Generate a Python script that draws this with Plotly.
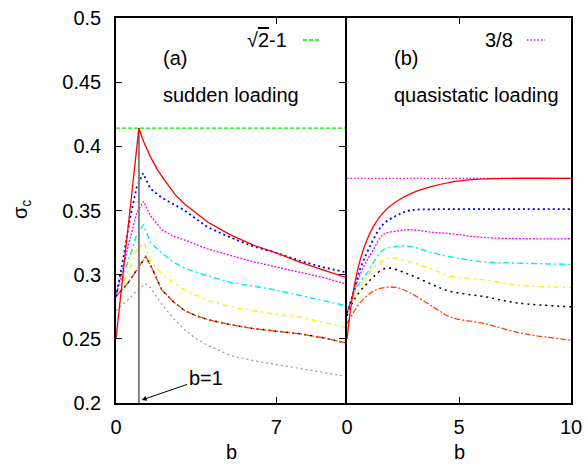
import plotly.graph_objects as go

# ---------------- data ----------------
SQRT2_M1 = 0.4142
THREE_EIGHTHS = 0.375

# (a) sudden loading
a_red_b = [0, 1, 1.2, 1.5, 1.8, 2.1, 2.6, 3, 3.5, 4, 5, 6, 7, 8, 9, 10]
a_red_s = [0.25, 0.4142, 0.404, 0.392, 0.382, 0.374, 0.362, 0.355, 0.348, 0.341, 0.331, 0.323, 0.317, 0.310, 0.304, 0.298]
a_blue_b = [0, 0.3, 0.6, 0.9, 1.18, 1.5, 2, 3, 4, 5, 6, 7, 8, 9, 10]
a_blue_s = [0.283, 0.311, 0.343, 0.368, 0.379, 0.367, 0.360, 0.350, 0.337, 0.329, 0.322, 0.317, 0.311, 0.306, 0.302]
a_mag_b = [0, 0.3, 0.6, 0.9, 1.2, 1.5, 2, 2.5, 3, 4, 5, 6, 7, 8, 9, 10]
a_mag_s = [0.283, 0.306, 0.327, 0.348, 0.357, 0.346, 0.335, 0.330, 0.327, 0.320, 0.315, 0.310, 0.306, 0.302, 0.298, 0.293]
a_cyan_b = [0, 0.3, 0.6, 0.9, 1.2, 1.5, 2, 2.5, 3, 4, 5, 6, 7, 8, 9, 10]
a_cyan_s = [0.285, 0.298, 0.314, 0.331, 0.339, 0.325, 0.317, 0.310, 0.305, 0.299, 0.294, 0.291, 0.288, 0.284, 0.280, 0.276]
a_yel_b = [0, 0.3, 0.6, 0.9, 1.25, 1.5, 2, 2.5, 3, 4, 5, 6, 7, 8, 9, 10]
a_yel_s = [0.285, 0.293, 0.306, 0.319, 0.325, 0.311, 0.301, 0.294, 0.288, 0.280, 0.275, 0.272, 0.269, 0.267, 0.263, 0.259]
a_blk_b = [0, 0.5, 1, 1.3, 1.6, 2, 2.5, 3, 3.5, 4, 5, 6, 7, 8, 9, 10]
a_blk_s = [0.283, 0.293, 0.306, 0.314, 0.304, 0.288, 0.279, 0.272, 0.268, 0.265, 0.261, 0.258, 0.256, 0.254, 0.251, 0.247]
a_org_b = [0, 0.5, 1, 1.3, 1.6, 2, 2.5, 3, 3.5, 4, 5, 6, 7, 8, 9, 10]
a_org_s = [0.283, 0.293, 0.306, 0.314, 0.304, 0.288, 0.279, 0.272, 0.268, 0.265, 0.261, 0.258, 0.256, 0.254, 0.251, 0.247]
a_gray_b = [0, 0.5, 1, 1.3, 1.5, 2, 2.5, 3, 3.5, 4, 4.5, 5, 6, 7, 8, 9, 10]
a_gray_s = [0.272, 0.280, 0.289, 0.293, 0.290, 0.277, 0.266, 0.257, 0.250, 0.245, 0.241, 0.237, 0.233, 0.230, 0.227, 0.224, 0.221]

# (b) quasistatic loading
q_red_b = [0, 0.27, 0.58, 0.89, 1.16, 1.6, 2.2, 2.95, 3.84, 4.6, 5.6, 7, 10]
q_red_s = [0.25, 0.286, 0.311, 0.327, 0.337, 0.348, 0.357, 0.364, 0.369, 0.372, 0.374, 0.375, 0.375]
q_blue_b = [0, 0.27, 0.58, 0.89, 1.16, 1.6, 2.2, 2.8, 4, 6, 8, 10]
q_blue_s = [0.27, 0.285, 0.304, 0.317, 0.327, 0.339, 0.346, 0.350, 0.351, 0.351, 0.351, 0.351]
q_mag_b = [0, 0.27, 0.58, 0.89, 1.16, 1.6, 2.2, 2.8, 3.84, 4.6, 6.1, 8, 10]
q_mag_s = [0.27, 0.285, 0.300, 0.311, 0.319, 0.331, 0.334, 0.335, 0.333, 0.332, 0.329, 0.328, 0.328]
q_cyan_b = [0, 0.27, 0.58, 0.89, 1.16, 1.6, 2.2, 2.8, 3.84, 4.6, 6.1, 7.6, 10]
q_cyan_s = [0.27, 0.284, 0.294, 0.301, 0.309, 0.319, 0.322, 0.322, 0.317, 0.314, 0.310, 0.309, 0.308]
q_yel_b = [0, 0.27, 0.58, 0.89, 1.16, 1.9, 2.8, 3.84, 4.6, 6.1, 7.6, 10]
q_yel_s = [0.27, 0.281, 0.290, 0.298, 0.305, 0.313, 0.310, 0.304, 0.299, 0.296, 0.292, 0.290]
q_blk_b = [0, 0.27, 0.58, 0.89, 1.16, 1.75, 2.8, 3.84, 4.6, 6.1, 7.6, 10]
q_blk_s = [0.268, 0.279, 0.287, 0.293, 0.298, 0.305, 0.300, 0.292, 0.287, 0.283, 0.278, 0.275]
q_org_b = [0, 0.27, 0.58, 1.16, 1.7, 2.2, 2.8, 3.84, 4.6, 6.1, 7.6, 8.6, 10]
q_org_s = [0.262, 0.270, 0.278, 0.287, 0.290, 0.290, 0.286, 0.275, 0.267, 0.262, 0.255, 0.252, 0.249]

Y_TICKS = [0.2, 0.25, 0.3, 0.35, 0.4, 0.45, 0.5]
XA_TICKS = [0, 7]
XB_TICKS = [0, 5, 10]
B_MARK = 1

FONT = "Liberation Sans, Arial, sans-serif"
FS = 20

# ---------------- styles ----------------
RED = "#ff0000"; BLUE = "#0000ff"; MAG = "#ff00ff"; CYAN = "#00eeee"
YEL = "#ffee00"; ORG = "#ff4500"; BLK = "#000000"; GRAY = "#999999"; GREEN = "#00ee00"

sty = {
    "red": dict(color=RED, width=1.3),
    "blue": dict(color=BLUE, width=1.8, dash="2px,3px"),
    "mag": dict(color=MAG, width=1.3, dash="2px,1.5px"),
    "cyan": dict(color=CYAN, width=1.4, dash="6px,3px,2px,3px"),
    "yel": dict(color=YEL, width=1.4, dash="5px,4px,2px,4px"),
    "blk": dict(color=BLK, width=1.5, dash="2px,4px"),
    "org": dict(color=ORG, width=1.3, dash="6px,2px,2px,2px"),
    "gray": dict(color=GRAY, width=1.2, dash="2px,3px"),
}

fig = go.Figure()

def add(xs, ys, st, xa="x", ya="y", shape="linear"):
    fig.add_trace(go.Scatter(x=xs, y=ys, mode="lines", line=dict(**st, shape=shape),
                             xaxis=xa, yaxis=ya, showlegend=False, hoverinfo="skip"))

# panel (a)
add([0, 10], [SQRT2_M1, SQRT2_M1], dict(color=GREEN, width=1.3, dash="4px,2px"))
add(a_gray_b, a_gray_s, sty["gray"])
add(a_blk_b, a_blk_s, sty["blk"])
add(a_org_b, a_org_s, sty["org"])
add(a_yel_b, a_yel_s, sty["yel"])
add(a_cyan_b, a_cyan_s, sty["cyan"])
add(a_mag_b, a_mag_s, sty["mag"])
add(a_blue_b, a_blue_s, sty["blue"])
add([B_MARK, B_MARK], [Y_TICKS[0], SQRT2_M1], dict(color="#808080", width=2))
add(a_red_b, a_red_s, sty["red"])

# panel (b)
add([0, 10], [THREE_EIGHTHS, THREE_EIGHTHS], dict(color=MAG, width=1.3, dash="1.5px,2px"), "x2", "y2")
add(q_org_b, q_org_s, sty["org"], "x2", "y2", "spline")
add(q_blk_b, q_blk_s, sty["blk"], "x2", "y2", "spline")
add(q_yel_b, q_yel_s, sty["yel"], "x2", "y2", "spline")
add(q_cyan_b, q_cyan_s, sty["cyan"], "x2", "y2", "spline")
add(q_mag_b, q_mag_s, sty["mag"], "x2", "y2", "spline")
add(q_blue_b, q_blue_s, sty["blue"], "x2", "y2", "spline")
add(q_red_b, q_red_s, sty["red"], "x2", "y2", "spline")

# ---------------- layout ----------------
W, H = 585, 464
L, R, T, B = 116, 14, 18, 61
PW, PH = W - L - R, H - T - B

def px(x):
    return (x - L) / PW

def py(y):
    return (H - B - y) / PH

axis_common = dict(showline=True, linecolor="black", linewidth=1.5, mirror="allticks",
                   ticks="inside", ticklen=6, tickwidth=1, tickcolor="black",
                   showgrid=False, zeroline=False, automargin=False,
                   tickfont=dict(family=FONT, size=FS, color="black"))

fig.update_layout(
    template="none",
    width=W, height=H, margin=dict(l=L, r=R, t=T, b=B, autoexpand=False),
    paper_bgcolor="white", plot_bgcolor="white", showlegend=False,
    font=dict(family=FONT, size=FS, color="black"),
    xaxis=dict(**axis_common, domain=[0, px(345)], range=[0, 10], tickvals=XA_TICKS,
               ticklabelstandoff=5, anchor="y"),
    yaxis=dict(**axis_common, domain=[0, 1], range=[0.2, 0.5], tickvals=Y_TICKS,
               ticklabelstandoff=9, anchor="x"),
    xaxis2=dict(**axis_common, domain=[px(347), 1], range=[0, 10], tickvals=XB_TICKS,
                ticklabelstandoff=5, anchor="y2"),
    yaxis2=dict(showline=True, linecolor="black", linewidth=1.5, mirror=True, ticks="",
                showticklabels=False, showgrid=False, zeroline=False, automargin=False,
                domain=[0, 1], range=[0.2, 0.5], anchor="x2"),
)

ann = []
def txt(t, x, y, xanchor="left", yanchor="middle", **kw):
    ann.append(dict(text=t, x=px(x), y=py(y), xref="paper", yref="paper", showarrow=False,
                    xanchor=xanchor, yanchor=yanchor, font=dict(family=FONT, size=FS, color="black"), **kw))

txt("(a)", 161, 58)
txt("sudden loading", 161, 95)
txt("√<span style='text-decoration:overline'>2</span>-1", 289, 40, xanchor="right")
txt("(b)", 392, 58)
txt("quasistatic loading", 392, 95)
txt("3/8", 515, 40, xanchor="right")
txt("b", 231, 464, xanchor="center", yanchor="bottom", borderpad=0)
txt("b", 459, 464, xanchor="center", yanchor="bottom", borderpad=0)
txt("σ<sub>c</sub>", 21, 210, xanchor="center", textangle=-90)

ann.append(dict(text="b=1", x=1.12, y=0.2023, xref="x", yref="y", showarrow=True,
                ax=64, ay=-22, arrowhead=2, arrowsize=1, arrowwidth=1, arrowcolor="black",
                font=dict(family=FONT, size=FS, color="black")))
fig.update_layout(annotations=ann)

fig.add_shape(type="line", xref="paper", yref="paper", x0=px(303), x1=px(321), y0=py(40), y1=py(40),
              line=dict(color=GREEN, width=1.3, dash="4px,2px"))
fig.add_shape(type="line", xref="paper", yref="paper", x0=px(527), x1=px(545), y0=py(40), y1=py(40),
              line=dict(color=MAG, width=1.3, dash="1.5px,2px"))

fig.write_html("out.html", config={"responsive": False})
